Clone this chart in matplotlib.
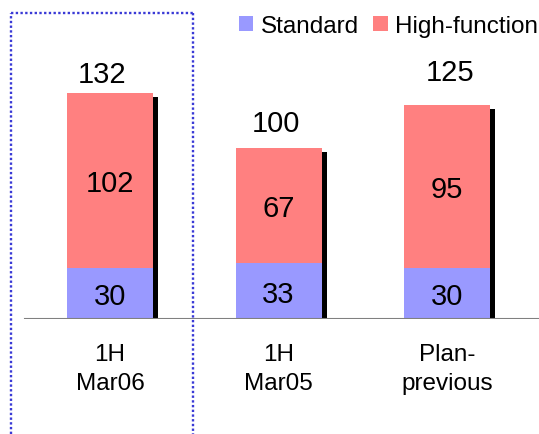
import numpy as np
import matplotlib.pyplot as plt
from matplotlib.lines import Line2D

plt.rcParams['font.family'] = ['Liberation Sans', 'DejaVu Sans']

categories = ['1H\nMar06', '1H\nMar05', 'Plan-\nprevious']
standard = [30, 33, 30]
high_function = [102, 67, 95]
totals = [s + h for s, h in zip(standard, high_function)]

c_std = '#9999ff'
c_high = '#ff8080'

W, H = 539, 435
fig = plt.figure(figsize=(W / 100, H / 100), dpi=100)

# axes: baseline at y=320px, ~1.71 px per unit; bars 168.5 px apart, first centred at 110 px
ax = fig.add_axes([0, 115 / H, 1, 320 / H])
ax.set_ylim(0, 320 / 1.712)
step = 168.5
ax.set_xlim(-110 / step, (W - 110) / step)

x = np.arange(len(categories))
bw = 86 / step

# drop shadow on the right side of each stack
ax.bar(x + bw / 2, np.array(totals) - 2.5, width=5 / step, align='edge',
       color='black', zorder=1)
b1 = ax.bar(x, standard, width=bw, color=c_std, label='Standard', zorder=2)
b2 = ax.bar(x, high_function, width=bw, bottom=standard, color=c_high,
            label='High-function', zorder=2)

# hand-placed total labels (offsets in points)
total_offsets = [(-6, 8), (-1.5, 12), (2, 18)]

for i in range(len(x)):
    ax.text(x[i], standard[i] / 2, str(standard[i]), ha='center',
            va='center_baseline', fontsize=21, zorder=3)
    ax.text(x[i], standard[i] + high_function[i] / 2, str(high_function[i]),
            ha='center', va='center_baseline', fontsize=21, zorder=3)
    ax.annotate(str(totals[i]), (x[i], totals[i]), xytext=total_offsets[i],
                textcoords='offset points', ha='center', va='baseline',
                fontsize=21)

ax.axhline(0, xmin=25 / W, xmax=1, color='#808080', lw=1.5, zorder=4)

ax.set_xticks(x)
ax.set_xticklabels(categories, fontsize=17.5, linespacing=1.45)
ax.tick_params(axis='x', length=0, pad=17)
ax.set_yticks([])
for s in ax.spines.values():
    s.set_visible(False)

# dotted frame around the current period (open at the bottom)
bx0, bx1, by0 = 11 / W, 193 / W, 1 - 14 / H
for xs, ys in [([bx0, bx0], [0, by0]), ([bx0, bx1], [by0, by0]), ([bx1, bx1], [by0, 0])]:
    fig.add_artist(Line2D(xs, ys, color='#3a3ad6', lw=1.7,
                          linestyle=(0, (1, 1)), transform=fig.transFigure))

fig.legend(handles=[b1, b2], loc='upper right',
           bbox_to_anchor=(538 / W, 1 - 16 / H), ncol=2, frameon=False,
           fontsize=17.5, handlelength=0.6, handleheight=0.6,
           handletextpad=0.3, columnspacing=0.6, borderpad=0,
           borderaxespad=0)

fig.savefig('out.png', dpi=100)
